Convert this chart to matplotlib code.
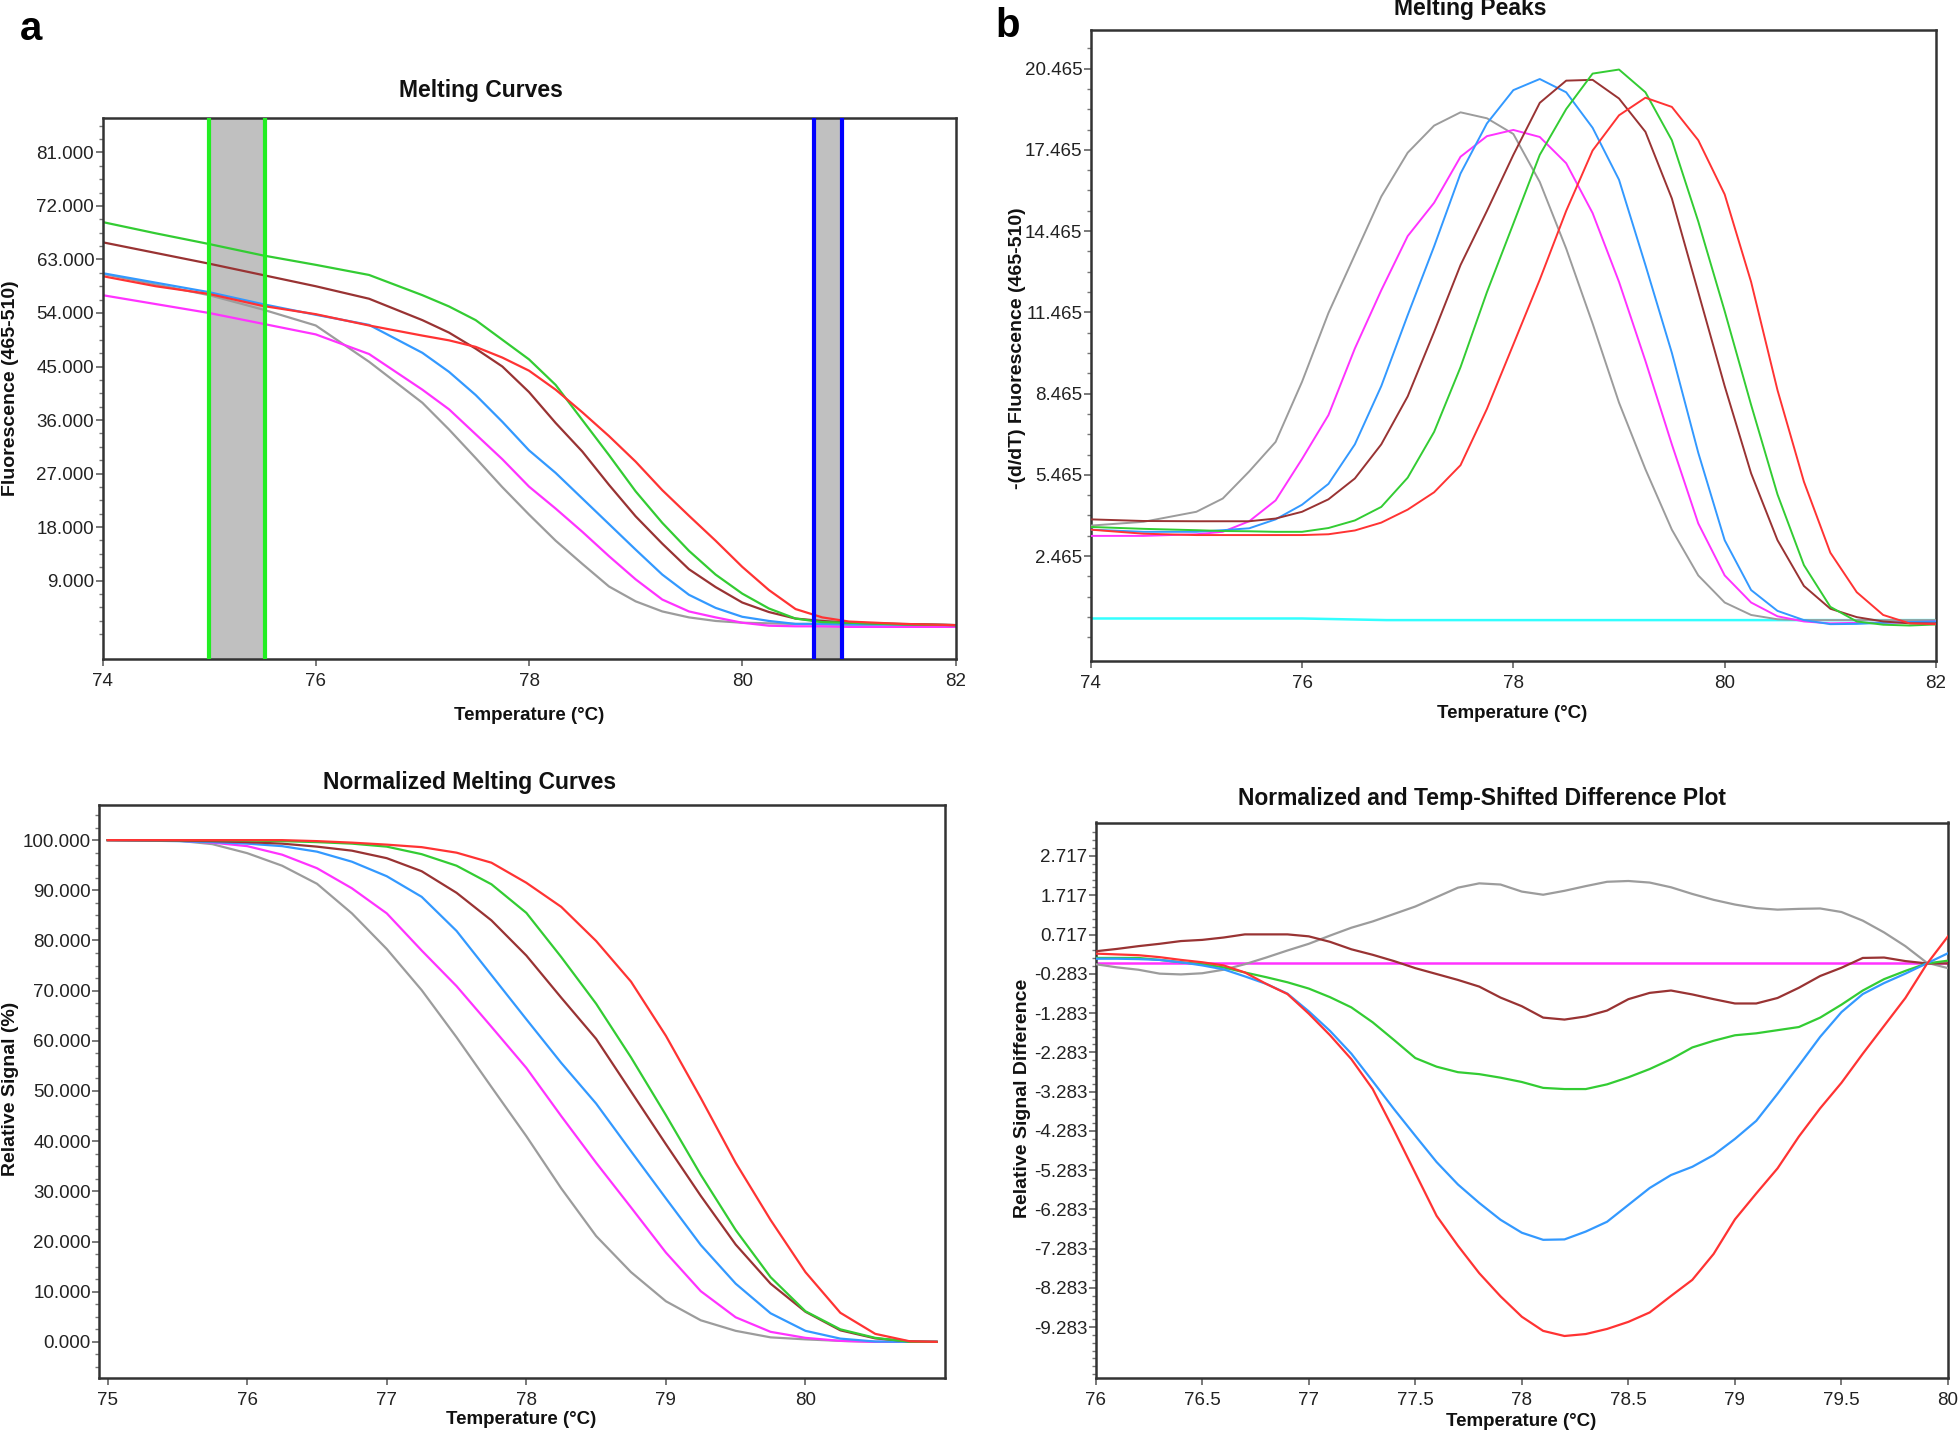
import matplotlib
matplotlib.use('Agg')
import matplotlib.pyplot as plt
from matplotlib.ticker import FixedLocator
import numpy as np

# ---------------- data ----------------
# Panel a: Melting Curves (fluorescence, thousands)
A_T = [74, 74.5, 75, 75.5, 76, 76.5, 77, 77.25, 77.5, 77.75, 78, 78.25, 78.5, 78.75,
       79, 79.25, 79.5, 79.75, 80, 80.25, 80.5, 80.75, 81, 81.5, 82]
A_GRAY = [60.6, 58.8, 57.0, 54.6, 51.9, 45.8, 38.9, 34.4, 29.6, 24.7, 20.1, 15.7, 11.8, 8.0,
          5.5, 3.8, 2.8, 2.2, 1.9, 1.8, 1.7, 1.7, 1.6, 1.6, 1.5]
A_MAGENTA = [57.0, 55.5, 54.0, 52.2, 50.4, 47.1, 41.1, 37.8, 33.6, 29.4, 24.8, 21.1, 17.2, 13.1,
             9.2, 5.8, 3.8, 2.8, 1.9, 1.4, 1.3, 1.3, 1.2, 1.2, 1.2]
A_BLUE = [60.7, 59.1, 57.5, 55.5, 53.7, 52.0, 47.3, 44.1, 40.2, 35.7, 30.9, 27.1, 22.8, 18.5,
          14.2, 10.0, 6.6, 4.4, 2.9, 2.2, 1.7, 1.7, 1.6, 1.6, 1.5]
A_BROWN = [65.9, 64.1, 62.3, 60.4, 58.5, 56.4, 52.8, 50.7, 48.0, 45.0, 40.7, 35.5, 30.7, 25.1,
           19.8, 15.2, 10.9, 7.9, 5.3, 3.7, 2.6, 2.2, 1.9, 1.7, 1.5]
A_GREEN = [69.3, 67.4, 65.6, 63.7, 62.1, 60.4, 57.0, 55.1, 52.8, 49.5, 46.2, 41.9, 36.0, 30.1,
           24.0, 18.7, 14.0, 10.0, 6.8, 4.3, 2.6, 2.0, 1.9, 1.6, 1.5]
A_RED = [60.2, 58.5, 57.2, 55.2, 53.8, 51.9, 50.2, 49.4, 48.3, 46.5, 44.3, 41.1, 37.3, 33.3,
         29.0, 24.2, 19.9, 15.7, 11.3, 7.4, 4.2, 2.8, 2.1, 1.7, 1.5]
A_LEFT_BAND = [75.0, 75.52]
A_RIGHT_BAND = [80.67, 80.94]
A_YTICKS = [9, 18, 27, 36, 45, 54, 63, 72, 81]
A_XTICKS = [74, 76, 78, 80, 82]

# Panel b: Melting Peaks
B_T = [74, 74.5, 75, 75.25, 75.5, 75.75, 76, 76.25, 76.5, 76.75, 77, 77.25, 77.5, 77.75,
       78, 78.25, 78.5, 78.75, 79, 79.25, 79.5, 79.75, 80, 80.25, 80.5, 80.75, 81, 81.25,
       81.5, 81.75, 82]
B_GRAY = [3.59, 3.73, 4.10, 4.59, 5.59, 6.68, 8.90, 11.44, 13.59, 15.74, 17.36, 18.36, 18.85,
          18.63, 18.05, 16.28, 13.82, 11.05, 8.13, 5.67, 3.44, 1.75, 0.75, 0.29, 0.13, 0.10,
          0.10, 0.10, 0.10, 0.10, 0.10]
B_MAGENTA = [3.21, 3.21, 3.27, 3.36, 3.75, 4.52, 6.05, 7.67, 10.13, 12.28, 14.28, 15.51, 17.21,
             17.97, 18.20, 17.94, 16.97, 15.13, 12.59, 9.67, 6.59, 3.67, 1.75, 0.75, 0.24,
             0.05, -0.02, 0.0, 0.0, 0.02, 0.05]
B_BLUE = [3.44, 3.36, 3.36, 3.42, 3.49, 3.82, 4.36, 5.13, 6.59, 8.74, 11.36, 13.90, 16.59, 18.44,
          19.67, 20.08, 19.59, 18.28, 16.36, 13.21, 9.97, 6.28, 3.05, 1.21, 0.44, 0.10, -0.05,
          -0.04, 0.0, 0.03, 0.05]
B_BROWN = [3.82, 3.76, 3.75, 3.75, 3.75, 3.85, 4.10, 4.56, 5.33, 6.59, 8.36, 10.74, 13.21, 15.21,
           17.28, 19.20, 20.02, 20.05, 19.36, 18.13, 15.67, 12.21, 8.74, 5.52, 3.05, 1.36, 0.52,
           0.21, 0.05, -0.02, -0.02]
B_GREEN = [3.54, 3.47, 3.42, 3.39, 3.38, 3.36, 3.36, 3.50, 3.78, 4.28, 5.36, 7.05, 9.44, 12.21,
           14.74, 17.28, 18.97, 20.28, 20.43, 19.59, 17.82, 14.82, 11.51, 8.05, 4.74, 2.13, 0.59,
           0.05, -0.07, -0.10, -0.06]
B_RED = [3.44, 3.29, 3.24, 3.24, 3.24, 3.24, 3.24, 3.27, 3.41, 3.70, 4.18, 4.82, 5.82, 7.90,
         10.28, 12.67, 15.21, 17.44, 18.74, 19.39, 19.05, 17.82, 15.82, 12.59, 8.59, 5.21, 2.59,
         1.13, 0.29, -0.02, -0.05]
B_CYAN_T = [74, 76, 76.8, 82]
B_CYAN = [0.16, 0.16, 0.10, 0.10]
B_YTICKS = [2.465, 5.465, 8.465, 11.465, 14.465, 17.465, 20.465]
B_XTICKS = [74, 76, 78, 80, 82]

# Panel c: Normalized Melting Curves (%)
C_T = [75, 75.5, 75.75, 76, 76.25, 76.5, 76.75, 77, 77.25, 77.5, 77.75, 78, 78.25, 78.5,
       78.75, 79, 79.25, 79.5, 79.75, 80, 80.25, 80.5, 80.75, 80.94]
C_GRAY = [100, 99.9, 99.2, 97.4, 94.9, 91.3, 85.4, 78.3, 70.1, 60.7, 50.8, 41.0, 30.6, 21.1,
          13.9, 8.1, 4.3, 2.2, 0.9, 0.5, 0.2, 0.0, 0.0, 0.0]
C_MAGENTA = [100, 99.9, 99.5, 98.8, 97.1, 94.4, 90.4, 85.4, 78.0, 70.9, 62.8, 54.6, 45.0, 35.7,
             26.8, 17.8, 10.1, 4.9, 2.0, 0.8, 0.2, 0.0, 0.0, 0.0]
C_BLUE = [100, 99.8, 99.6, 99.3, 98.8, 97.7, 95.7, 92.8, 88.7, 81.9, 73.1, 64.3, 55.6, 47.5,
          38.0, 28.6, 19.3, 11.6, 5.7, 2.2, 0.65, 0.07, 0.0, 0.0]
C_BROWN = [100, 99.9, 99.8, 99.6, 99.3, 98.7, 97.9, 96.4, 93.8, 89.5, 84.0, 77.0, 68.6, 60.4,
           49.9, 39.4, 29.1, 19.4, 11.6, 6.0, 2.3, 0.7, 0.1, 0.0]
C_GREEN = [100, 100, 100, 99.9, 99.8, 99.6, 99.3, 98.7, 97.2, 94.9, 91.2, 85.5, 76.7, 67.4,
           56.7, 45.2, 33.3, 22.3, 12.9, 6.1, 2.5, 0.8, 0.0, 0.0]
C_RED = [100, 100, 100, 100, 100, 99.8, 99.5, 99.1, 98.6, 97.5, 95.5, 91.5, 86.7, 79.9, 71.8,
         61.0, 48.6, 35.7, 24.3, 13.9, 5.8, 1.6, 0.1, 0.0]
C_YTICKS = [0, 10, 20, 30, 40, 50, 60, 70, 80, 90, 100]
C_XTICKS = [75, 76, 77, 78, 79, 80]

# Panel d: Normalized and Temp-Shifted Difference Plot
D_T = [76.0, 76.1, 76.2, 76.3, 76.4, 76.5, 76.6, 76.7, 76.8, 76.9, 77.0, 77.1, 77.2, 77.3,
       77.4, 77.5, 77.6, 77.7, 77.8, 77.9, 78.0, 78.1, 78.2, 78.3, 78.4, 78.5, 78.6, 78.7,
       78.8, 78.9, 79.0, 79.1, 79.2, 79.3, 79.4, 79.5, 79.6, 79.7, 79.8, 79.9, 80.0]
D_GRAY = [-0.04, -0.12, -0.18, -0.28, -0.30, -0.27, -0.18, -0.04, 0.13, 0.31, 0.48, 0.69, 0.89,
          1.05, 1.24, 1.43, 1.67, 1.91, 2.02, 1.99, 1.81, 1.73, 1.83, 1.95, 2.06, 2.08, 2.04,
          1.92, 1.75, 1.60, 1.48, 1.39, 1.35, 1.37, 1.38, 1.29, 1.07, 0.77, 0.42, 0.0, -0.14]
D_BROWN = [0.29, 0.35, 0.42, 0.48, 0.55, 0.58, 0.64, 0.72, 0.72, 0.72, 0.67, 0.53, 0.34, 0.20,
           0.04, -0.14, -0.29, -0.44, -0.61, -0.89, -1.11, -1.40, -1.45, -1.37, -1.22, -0.93,
           -0.77, -0.71, -0.81, -0.93, -1.04, -1.04, -0.90, -0.64, -0.34, -0.13, 0.12, 0.13,
           0.04, -0.02, -0.02]
D_GREEN = [0.12, 0.12, 0.12, 0.07, 0.01, -0.04, -0.12, -0.25, -0.37, -0.50, -0.66, -0.88, -1.14,
           -1.52, -1.97, -2.43, -2.65, -2.79, -2.84, -2.93, -3.04, -3.19, -3.22, -3.22, -3.10,
           -2.92, -2.71, -2.46, -2.16, -1.99, -1.85, -1.80, -1.72, -1.64, -1.40, -1.07, -0.71,
           -0.42, -0.21, -0.02, 0.05]
D_BLUE = [0.10, 0.10, 0.09, 0.07, 0.01, -0.07, -0.17, -0.35, -0.54, -0.79, -1.24, -1.74, -2.32,
          -3.02, -3.73, -4.41, -5.08, -5.65, -6.12, -6.55, -6.88, -7.06, -7.05, -6.85, -6.60,
          -6.17, -5.74, -5.41, -5.20, -4.90, -4.49, -4.03, -3.34, -2.62, -1.89, -1.26, -0.80,
          -0.52, -0.28, -0.02, 0.24]
D_RED = [0.23, 0.21, 0.19, 0.14, 0.07, 0.01, -0.07, -0.25, -0.54, -0.80, -1.30, -1.85, -2.46,
         -3.22, -4.27, -5.36, -6.45, -7.21, -7.91, -8.50, -9.02, -9.38, -9.51, -9.46, -9.33,
         -9.15, -8.91, -8.49, -8.08, -7.42, -6.54, -5.88, -5.24, -4.43, -3.71, -3.06, -2.32,
         -1.61, -0.90, -0.04, 0.67]
D_MAGENTA_T = [76.0, 80.0]
D_MAGENTA = [0.0, 0.0]
D_YTICKS = [-9.283, -8.283, -7.283, -6.283, -5.283, -4.283, -3.283, -2.283, -1.283, -0.283,
            0.717, 1.717, 2.717]
D_XTICKS = [76, 76.5, 77, 77.5, 78, 78.5, 79, 79.5, 80]

# ---------------- style ----------------
GRAY = '#9c9c9c'
MAGENTA = '#ff33ff'
BLUE = '#3399ff'
BROWN = '#993333'
GREEN = '#33cc33'
RED = '#ff3333'
CYAN = '#33ffff'
SANS = ['Liberation Sans', 'DejaVu Sans']

W, H = 1960, 1435
fig = plt.figure(figsize=(W / 100, H / 100), dpi=100)


def box(l, r, t, b):
    return [l / W, 1 - b / H, (r - l) / W, (b - t) / H]


def style(ax, xticks, yticks, yminor):
    for s in ax.spines.values():
        s.set_color('#333333')
        s.set_linewidth(1.8)
    ax.xaxis.set_major_locator(FixedLocator(xticks))
    ax.set_xticklabels(['%g' % v for v in xticks])
    ax.yaxis.set_major_locator(FixedLocator(yticks))
    ax.set_yticklabels(['%.3f' % v for v in yticks])
    ax.yaxis.set_minor_locator(FixedLocator(yminor))
    ax.tick_params(axis='both', which='major', direction='out', length=5, width=1.1,
                   color='#555555', labelsize=13.5, labelcolor='#222222')
    ax.tick_params(axis='x', which='major', pad=5)
    ax.tick_params(axis='y', which='major', pad=1)
    ax.tick_params(axis='y', which='minor', direction='out', length=3, width=1.0,
                   color='#777777')
    for lbl in ax.get_xticklabels() + ax.get_yticklabels():
        lbl.set_fontfamily(SANS)


def ftext(x, y, s, **kw):
    fig.text(x / W, 1 - y / H, s, ha='center', va='center', **kw)


# ---- panel a ----
axa = fig.add_axes(box(102.5, 955.5, 118, 659))
axa.set_xlim(74, 82)
axa.set_ylim(-4.2, 86.8)
axa.axvspan(A_LEFT_BAND[0], A_LEFT_BAND[1], color='#c0c0c0', zorder=0, lw=0)
axa.axvspan(A_RIGHT_BAND[0], A_RIGHT_BAND[1], color='#c0c0c0', zorder=0, lw=0)
for ys, c in [(A_GRAY, GRAY), (A_MAGENTA, MAGENTA), (A_BLUE, BLUE), (A_BROWN, BROWN),
              (A_GREEN, GREEN), (A_RED, RED)]:
    axa.plot(A_T, ys, color=c, lw=1.6, zorder=2)
for v in A_LEFT_BAND:
    axa.axvline(v, color='#22ee22', lw=3.0, zorder=3)
for v in A_RIGHT_BAND:
    axa.axvline(v, color='#0000ff', lw=3.0, zorder=3)
style(axa, A_XTICKS, A_YTICKS, np.arange(0, 86, 2.25))

# ---- panel b ----
axb = fig.add_axes(box(1090.7, 1936, 30, 661))
axb.set_xlim(74, 82)
axb.set_ylim(-1.41, 21.89)
axb.plot(B_CYAN_T, B_CYAN, color=CYAN, lw=1.8, zorder=2)
for ys, c in [(B_GRAY, GRAY), (B_MAGENTA, MAGENTA), (B_BLUE, BLUE), (B_BROWN, BROWN),
              (B_GREEN, GREEN), (B_RED, RED)]:
    axb.plot(B_T, ys, color=c, lw=1.4, zorder=3)
style(axb, B_XTICKS, B_YTICKS, np.arange(2.465 - 4 * 0.75, 21.8, 0.75))

# ---- panel c ----
axc = fig.add_axes(box(99.3, 945, 805, 1378))
axc.set_xlim(74.94, 81.0)
axc.set_ylim(-7.2, 107.0)
for ys, c in [(C_GRAY, GRAY), (C_MAGENTA, MAGENTA), (C_BLUE, BLUE), (C_BROWN, BROWN),
              (C_GREEN, GREEN), (C_RED, RED)]:
    axc.plot(C_T, ys, color=c, lw=1.6, zorder=2)
style(axc, C_XTICKS, C_YTICKS, np.arange(-5, 106, 2.5))

# ---- panel d ----
axd = fig.add_axes(box(1095.7, 1948, 822.5, 1378))
axd.set_xlim(76, 80)
axd.set_ylim(-10.58, 3.57)
axd.plot(D_MAGENTA_T, D_MAGENTA, color=MAGENTA, lw=1.8, zorder=2)
for ys, c in [(D_GRAY, GRAY), (D_BROWN, BROWN), (D_GREEN, GREEN), (D_BLUE, BLUE),
              (D_RED, RED)]:
    axd.plot(D_T, ys, color=c, lw=1.6, zorder=3)
style(axd, D_XTICKS, D_YTICKS, np.arange(-10.483, 3.5, 0.2))

# ---- texts ----
tkw = dict(fontsize=16.5, fontweight='bold', family=SANS, color='#111111')
ftext(481, 91, 'Melting Curves', **tkw)
ftext(1470, 9, 'Melting Peaks', **tkw)
ftext(470, 782, 'Normalized Melting Curves', **tkw)
ftext(1482, 799, 'Normalized and Temp-Shifted Difference Plot', **tkw)

xkw = dict(fontsize=13.5, fontweight='bold', family=SANS, color='#111111')
ftext(529, 716, 'Temperature (°C)', **xkw)
ftext(1512, 713, 'Temperature (°C)', **xkw)
ftext(521, 1420, 'Temperature (°C)', **xkw)
ftext(1521, 1421, 'Temperature (°C)', **xkw)

ykw = dict(fontsize=14, fontweight='bold', family=SANS, color='#111111', rotation=90)
ftext(11, 388, 'Fluorescence (465-510)', **ykw)
ftext(1017, 348, '-(d/dT) Fluorescence (465-510)', **ykw)
ftext(11, 1089, 'Relative Signal (%)', **ykw)
ftext(1022, 1098, 'Relative Signal Difference', **ykw)

ftext(31, 29, 'a', fontsize=29, fontweight='bold', family=SANS)
ftext(1008, 26, 'b', fontsize=29, fontweight='bold', family=SANS)

fig.savefig('out.png', dpi=100)
